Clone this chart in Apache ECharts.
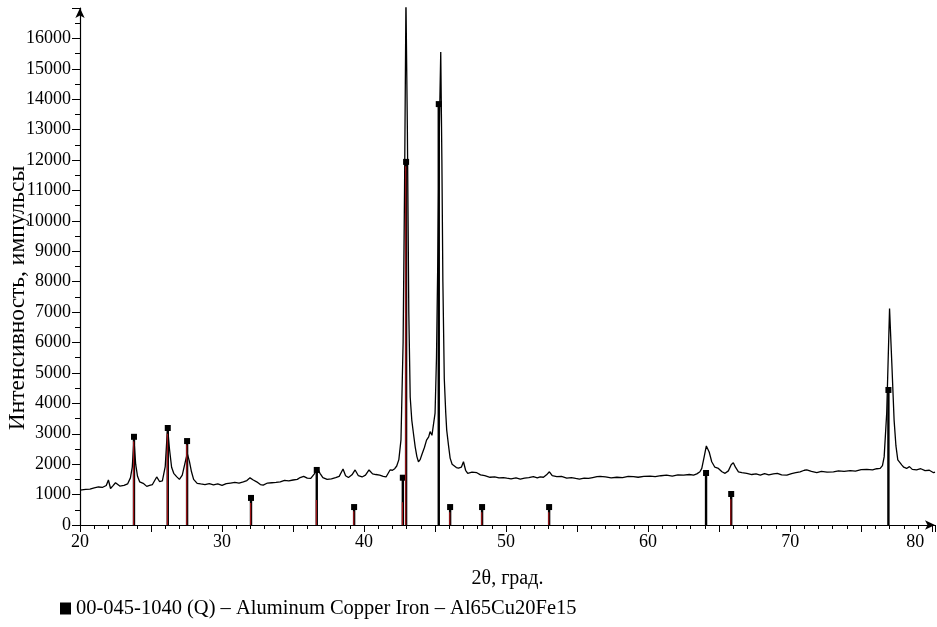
<!DOCTYPE html>
<html>
<head>
<meta charset="utf-8">
<script src="https://cdn.jsdelivr.net/npm/echarts@6/dist/echarts.min.js"></script>
<style>
html, body { margin: 0; padding: 0; background: #fff; }
#main { width: 937px; height: 627px; }
</style>
</head>
<body>
<div id="main"></div>
<script>
// measured pattern: 2theta (deg) and intensity (counts)
var twoTheta = [
  20.0, 20.4, 20.7, 21.0, 21.3, 21.6, 21.85, 22.0, 22.15, 22.3, 22.5, 22.8, 23.1, 23.35, 23.55, 23.68, 23.8, 23.92,
  24.05, 24.2, 24.45, 24.7, 24.9, 25.1, 25.4, 25.6, 25.8, 26.0, 26.1, 26.18, 26.3, 26.45, 26.6, 26.8, 27.0, 27.2,
  27.4, 27.55, 27.7, 27.85, 28.0, 28.25, 28.5, 28.8, 29.1, 29.4, 29.7, 30.0, 30.3, 30.6, 30.9, 31.2, 31.5, 31.75,
  31.97, 32.2, 32.44, 32.7, 32.9, 33.2, 33.5, 33.8, 34.1, 34.4, 34.7, 35.0, 35.3, 35.5, 35.75, 36.0, 36.25, 36.5,
  36.7, 36.9, 37.1, 37.4, 37.7, 38.0, 38.25, 38.52, 38.7, 38.9, 39.15, 39.37, 39.6, 39.86, 40.1, 40.35, 40.6, 40.83,
  41.1, 41.35, 41.55, 41.83, 42.0, 42.16, 42.3, 42.45, 42.6, 42.75, 42.85, 42.95, 43.05, 43.15, 43.25, 43.36, 43.48,
  43.6, 43.72, 43.83, 43.95, 44.06, 44.25, 44.4, 44.55, 44.65, 44.78, 44.9, 45.0, 45.1, 45.2, 45.3, 45.4, 45.48,
  45.55, 45.65, 45.75, 45.82, 45.95, 46.06, 46.2, 46.3, 46.5, 46.65, 46.85, 47.0, 47.15, 47.3, 47.6, 47.94, 48.2,
  48.5, 48.87, 49.2, 49.5, 49.8, 50.05, 50.35, 50.7, 51.0, 51.3, 51.6, 51.92, 52.2, 52.4, 52.63, 52.85, 53.05, 53.25,
  53.57, 53.9, 54.27, 54.6, 54.9, 55.16, 55.5, 55.8, 56.1, 56.4, 56.62, 57.0, 57.4, 57.8, 58.2, 58.6, 58.97, 59.3,
  59.7, 60.14, 60.5, 60.9, 61.3, 61.7, 62.1, 62.5, 62.9, 63.2, 63.43, 63.65, 63.78, 63.95, 64.1, 64.18, 64.3, 64.48,
  64.7, 64.95, 65.2, 65.42, 65.65, 65.85, 66.0, 66.15, 66.36, 66.6, 66.95, 67.3, 67.6, 67.9, 68.2, 68.5, 68.82, 69.1,
  69.4, 69.77, 70.1, 70.4, 70.7, 71.0, 71.17, 71.5, 71.88, 72.2, 72.6, 73.05, 73.4, 73.8, 74.23, 74.6, 75.0, 75.4,
  75.8, 76.1, 76.34, 76.5, 76.62, 76.8, 77.0, 77.16, 77.32, 77.45, 77.58, 77.87, 78.0, 78.2, 78.4, 78.6, 78.9, 79.2,
  79.5, 79.8, 80.1, 80.2
];
var intensity = [
  1150, 1170, 1180, 1220, 1250, 1240, 1300, 1480, 1200, 1280, 1390, 1280, 1300, 1350, 1550, 1900, 2800, 2000,
  1600, 1420, 1370, 1270, 1300, 1330, 1580, 1430, 1450, 1920, 2700, 3150, 2500, 1900, 1700, 1590, 1500, 1640,
  2050, 2350, 2100, 1750, 1500, 1370, 1350, 1330, 1360, 1320, 1350, 1300, 1360, 1380, 1400, 1380, 1420, 1460,
  1550, 1480, 1420, 1330, 1310, 1380, 1390, 1400, 1420, 1470, 1450, 1480, 1500, 1560, 1600, 1540, 1530, 1680,
  1860, 1700, 1560, 1500, 1520, 1560, 1600, 1840, 1620, 1560, 1650, 1810, 1620, 1580, 1640, 1810, 1680, 1660,
  1640, 1600, 1580, 1810, 1800, 1850, 1940, 2150, 2800, 6000, 11000, 17300, 13000, 7000, 4200, 3450, 3000,
  2570, 2250, 2080, 2150, 2300, 2550, 2790, 2900, 3070, 2950, 3010, 3680, 5500, 9000, 13000, 15550, 12000,
  8000, 4800, 3700, 3120, 2600, 2200, 2000, 1940, 1890, 1870, 1900, 2080, 1800, 1700, 1740, 1720, 1650,
  1620, 1570, 1580, 1550, 1560, 1540, 1520, 1550, 1510, 1540, 1560, 1590, 1550, 1580, 1570, 1650, 1750, 1620,
  1590, 1600, 1540, 1560, 1530, 1510, 1540, 1530, 1560, 1590, 1600, 1580, 1550, 1570, 1560, 1600, 1590, 1570,
  1600, 1610, 1590, 1620, 1640, 1610, 1650, 1640, 1660, 1640, 1680, 1750, 1860, 2250, 2600, 2630, 2400, 2080,
  1900, 1860, 1750, 1700, 1780, 1980, 2050, 1900, 1750, 1720, 1700, 1660, 1680, 1640, 1690, 1650, 1680, 1700,
  1650, 1640, 1690, 1720, 1750, 1800, 1810, 1760, 1720, 1760, 1740, 1750, 1780, 1760, 1790, 1770, 1820, 1830,
  1810, 1850, 1860, 1950, 2240, 3680, 7120, 5320, 3450, 2600, 2140, 1970, 1900, 1860, 1920, 1830, 1810, 1850,
  1790, 1800, 1720, 1740
];

// reference card 00-045-1040: line positions, heights, and the red part of each line
var stickPos = [23.8, 26.18, 27.54, 32.04, 36.67, 39.3, 42.73, 42.96, 45.26, 46.06, 48.31, 53.03, 64.08, 65.85, 76.92];
var stickHeight = [2900, 3190, 2760, 890, 1810, 590, 1555, 11940, 13840, 590, 590, 590, 1710, 1020, 4440];
var stickRed = [2750, 3000, 2650, 720, 820, 450, 750, 11800, 0, 420, 420, 420, 0, 850, 0];

var xTicks = [20, 30, 40, 50, 60, 70, 80];
var cardName = '00-045-1040 (Q) – Aluminum Copper Iron – Al65Cu20Fe15';
var yName = 'Интенсивность, импульсы';

var serif = 'Liberation Serif';

var lineData = twoTheta.map(function (t, i) { return [t, intensity[i]]; });
var stickData = stickPos.map(function (p, i) { return [p, stickHeight[i], stickRed[i]]; });

var chart = echarts.init(document.getElementById('main'));

var option = {
  backgroundColor: '#fff',
  animation: false,
  grid: {
    left: 80,
    right: 2,
    top: 8,
    bottom: 102,
    containLabel: false,
    outerBoundsMode: 'none'
  },
  // y axis title, placed by hand (axis name offset is not honoured the same way)
  graphic: [{
    type: 'text',
    x: 18,
    y: 298,
    rotation: Math.PI / 2,
    style: {
      text: yName,
      font: '23.5px "Liberation Serif"',
      fill: '#000',
      align: 'center',
      verticalAlign: 'middle'
    }
  }],
  legend: {
    data: [cardName],
    left: 55,
    top: 593,
    icon: 'rect',
    itemWidth: 11,
    itemHeight: 12,
    itemGap: 4,
    textStyle: { fontFamily: serif, fontSize: 20.5, color: '#000' }
  },
  xAxis: {
    type: 'value',
    min: 20,
    max: 80.2,
    interval: 5,
    name: '2θ, град.',
    nameLocation: 'middle',
    nameGap: 44,
    nameTextStyle: { fontFamily: serif, fontSize: 20, color: '#000' },
    axisLine: { lineStyle: { color: '#000', width: 1.2 }, symbol: ['none', 'arrow'], symbolSize: [7, 10] },
    axisTick: { length: 7, lineStyle: { color: '#000' } },
    minorTick: { show: true, splitNumber: 5, length: 4, lineStyle: { color: '#000' } },
    splitLine: { show: false },
    axisLabel: {
      fontFamily: serif, fontSize: 18, color: '#000', margin: 8,
      formatter: function (v) {
        if (v === 80) return '{e|80}';
        return xTicks.indexOf(v) >= 0 ? String(v) : '';
      },
      rich: { e: { fontFamily: serif, fontSize: 18, color: '#000', padding: [0, 34, 0, 0] } }
    }
  },
  yAxis: {
    type: 'value',
    min: 0,
    max: 17000,
    interval: 1000,
    axisLine: { lineStyle: { color: '#000', width: 1.2 }, symbol: ['none', 'arrow'], symbolSize: [7, 10] },
    axisTick: { length: 8, lineStyle: { color: '#000' } },
    minorTick: { show: true, splitNumber: 2, length: 5, lineStyle: { color: '#000' } },
    splitLine: { show: false },
    axisLabel: {
      fontFamily: serif, fontSize: 18, color: '#000', margin: 9, showMaxLabel: false,
      formatter: function (v) { return String(v); }
    }
  },
  series: [
    {
      name: 'pattern',
      type: 'line',
      data: lineData,
      showSymbol: false,
      clip: true,
      lineStyle: { color: '#000', width: 1.3 },
      z: 3
    },
    {
      name: cardName,
      type: 'custom',
      data: stickData,
      encode: { x: 0, y: 1 },
      itemStyle: { color: '#000' },
      z: 4,
      renderItem: function (params, api) {
        var base = api.coord([api.value(0), 0]);
        var top = api.coord([api.value(0), api.value(1)]);
        var red = api.coord([api.value(0), api.value(2)]);
        var children = [
          { type: 'line', shape: { x1: base[0], y1: base[1], x2: top[0], y2: top[1] }, style: { stroke: '#000', lineWidth: 2.4 } },
          { type: 'rect', shape: { x: top[0] - 3, y: top[1] - 3, width: 6, height: 6 }, style: { fill: '#000' } }
        ];
        if (api.value(2) > 0) {
          children.splice(1, 0, { type: 'line', shape: { x1: base[0] - 0.4, y1: base[1], x2: red[0] - 0.4, y2: red[1] }, style: { stroke: '#a3161b', lineWidth: 1.2 } });
        }
        return { type: 'group', children: children };
      }
    }
  ]
};

chart.setOption(option);
</script>
</body>
</html>
